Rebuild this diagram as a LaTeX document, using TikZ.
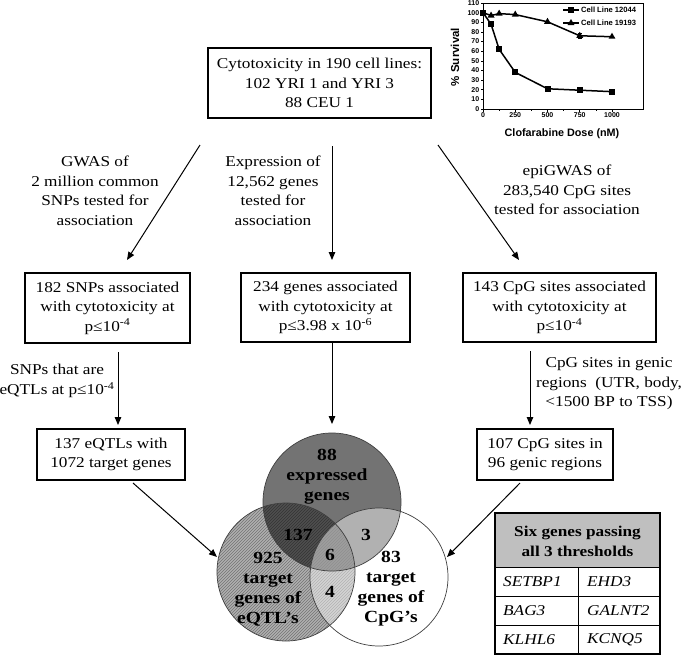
\documentclass[tikz,border=0pt]{standalone}
\usepackage{fontspec}
\setmainfont{Liberation Serif}[FakeStretch=1.15]
\newfontfamily\chartfont{Liberation Sans}
\usetikzlibrary{arrows.meta,patterns,shapes.geometric}
\newcommand\mainfs{\fontsize{15}{19.5}\selectfont}
\newcommand\vennfs{\fontsize{17}{20}\selectfont}
\newcommand\ltt[1]{\textsuperscript{#1}}
\tikzset{
  box/.style={draw, line width=1.3pt, align=center, inner sep=0pt, font=\mainfs},
  lbl/.style={align=center, inner sep=0pt, font=\mainfs},
  arr/.style={line width=1pt, -{Triangle[length=8pt,width=6.5pt]}},
  venn/.style={align=center, inner sep=0pt, font=\vennfs\bfseries},
  hdr/.style={align=center, inner sep=0pt, font=\mainfs\bfseries},
  vline/.style={line width=0.7pt, draw=black!75},
  sqm/.style={fill=black, minimum size=6pt, inner sep=0pt},
  trim/.style={fill=black, regular polygon, regular polygon sides=3, minimum size=8pt, inner sep=0pt},
  tickl/.style={font=\chartfont\bfseries\fontsize{7}{8}\selectfont, inner sep=1pt},
  cell/.style={anchor=west, inner sep=0pt, font=\mainfs\itshape},
}
\begin{document}
\begin{tikzpicture}[x=1pt,y=-1pt]
\useasboundingbox (0,0) rectangle (686,659);

% ---------- chart ----------
\begin{scope}[shift={(483,109)}, x=0.129pt, y=0.9636pt]
  \draw[line width=0.8pt] (0,0) rectangle (1240,110);
  \foreach \v in {0,10,...,110}
    \draw[line width=0.6pt] (0,\v) -- ++(-2.5pt,0) node[left, tickl] {\v};
  \foreach \v in {0,250,500,750,1000}
    \draw[line width=0.6pt] (\v,0) -- ++(0,-2.5pt) node[below, tickl] {\v};
  \foreach \v in {125,375,625,875}
    \draw[line width=0.6pt] (\v,0) -- ++(0,-1.5pt);
  \draw[line width=1.5pt] plot coordinates {(0,100) (62.5,88) (125,62) (250,38) (500,21) (750,19.5) (1000,18)};
  \draw[line width=1.5pt] plot coordinates {(0,100) (62.5,97) (125,99) (250,98) (500,90.5) (750,76) (1000,75)};
  \draw[line width=0.6pt] (750,73) -- (750,79) (735,79) -- (765,79) (735,73) -- (765,73);
  \foreach \x/\y in {0/100,62.5/88,125/62,250/38,500/21,750/19.5,1000/18}
    \node[sqm] at (\x,\y) {};
  \foreach \x/\y in {62.5/97,125/99,250/98,500/90.5,750/76,1000/75}
    \node[trim] at (\x,\y) {};
\end{scope}
\draw[line width=1.5pt] (563,10) -- (579,10);
\node[sqm] (lg1) at (571,10) {};
\node[anchor=west, inner sep=0pt, font=\chartfont\bfseries\fontsize{7.6}{9}\selectfont] (lt1) at (581,10) {Cell Line 12044};
\draw[line width=1.5pt] (563,23) -- (579,23);
\node[trim] (lg2) at (571,23) {};
\node[anchor=west, inner sep=0pt, font=\chartfont\bfseries\fontsize{7.6}{9}\selectfont] (lt2) at (581,23) {Cell Line 19193};
\node[rotate=90, inner sep=0pt, font=\chartfont\bfseries\fontsize{11.5}{13}\selectfont] (ylab) at (455,57) {\% Survival};
\node[inner sep=0pt, font=\chartfont\bfseries\fontsize{10.8}{13}\selectfont] (xlab) at (562,134) {Clofarabine Dose (nM)};

% ---------- boxes ----------
\node[box, minimum width=223pt, minimum height=70pt] (top) at (319.5,83)
  {Cytotoxicity in 190 cell lines:\\102 YRI 1 and YRI 3\\88 CEU 1};
\node[box, minimum width=165pt, minimum height=70pt] (b182) at (107.5,308)
  {182 SNPs associated\\with cytotoxicity at\\p≤10\ltt{-4}};
\node[box, minimum width=169pt, minimum height=69pt] (b234) at (325.5,307.5)
  {234 genes associated\\with cytotoxicity at\\p≤3.98 x 10\ltt{-6}};
\node[box, minimum width=193pt, minimum height=69pt] (b143) at (559.5,307.5)
  {143 CpG sites associated\\with cytotoxicity at\\p≤10\ltt{-4}};
\node[box, minimum width=148pt, minimum height=51pt] (b137) at (111,454.5)
  {137 eQTLs with\\1072 target genes};
\node[box, minimum width=136pt, minimum height=51pt] (b107) at (545,454.5)
  {107 CpG sites in\\96 genic regions};

% ---------- labels ----------
\node[lbl] (l1) at (95,191) {GWAS of\\2 million common\\SNPs tested for\\association};
\node[lbl] (l2) at (273,191) {Expression of\\12,562 genes\\tested for\\association};
\node[lbl] (l3) at (567,190) {epiGWAS of\\283,540 CpG sites\\tested for association};
\node[lbl] (l4) at (57,381) {SNPs that are\\eQTLs at p≤10\ltt{-4}};
\node[lbl] (l5) at (609,384) {CpG sites in genic\\regions~ (UTR, body,\\<1500 BP to TSS)};

% ---------- arrows ----------
\coordinate (a1s) at (200,145); \coordinate (a1e) at (127,260);
\coordinate (a2s) at (332,146); \coordinate (a2e) at (332,260);
\coordinate (a3s) at (438,145); \coordinate (a3e) at (519,260);
\coordinate (a4s) at (118,352); \coordinate (a4e) at (118,425);
\coordinate (a5s) at (332,342); \coordinate (a5e) at (332,424);
\coordinate (a6s) at (530,351); \coordinate (a6e) at (530,425);
\coordinate (a7s) at (133,483); \coordinate (a7e) at (217,557);
\coordinate (a8s) at (520,483); \coordinate (a8e) at (447,557);
\foreach \i in {1,...,8} \draw[arr] (a\i s) -- (a\i e);

% ---------- venn ----------
\coordinate (cT) at (332,502);
\coordinate (cL) at (286,572);
\coordinate (cR) at (379,577);
\fill[gray!62] (cL) circle (69);
\fill[pattern=north east lines, pattern color=black!55] (cL) circle (69);
\fill[black, fill opacity=0.55] (cT) circle (69);
\fill[white, fill opacity=0.45] (cR) circle (69);
\draw[vline] (cL) circle (69);
\draw[vline] (cT) circle (69);
\draw[vline] (cR) circle (69);
\node[venn] (v88) at (327,477) {88\\expressed\\genes};
\node[venn] (v137) at (298,535) {137};
\node[venn] (v3) at (366,535) {3};
\node[venn] (v6) at (330,555) {6};
\node[venn] (v4) at (330,592) {4};
\node[venn] (v925) at (268,589) {925\\target\\genes of\\eQTL’s};
\node[venn] (v83) at (391,589) {83\\target\\genes of\\CpG’s};

% ---------- table ----------
\fill[gray!50] (495,513) rectangle (660,567);
\draw[line width=0.9pt] (495,567) -- (660,567) (495,596) -- (660,596) (495,625) -- (660,625) (578,567) -- (578,654);
\draw[line width=2pt] (495,513) rectangle (660,654);
\node[hdr] (th) at (577.5,541.5) {Six genes passing\\all 3 thresholds};
\node[cell] (g1) at (503,581.5) {SETBP1};
\node[cell] (g2) at (587,581.5) {EHD3};
\node[cell] (g3) at (503,610.5) {BAG3};
\node[cell] (g4) at (587,610.5) {GALNT2};
\node[cell] (g5) at (503,639.5) {KLHL6};
\node[cell] (g6) at (587,639.5) {KCNQ5};
\end{tikzpicture}
\end{document}
